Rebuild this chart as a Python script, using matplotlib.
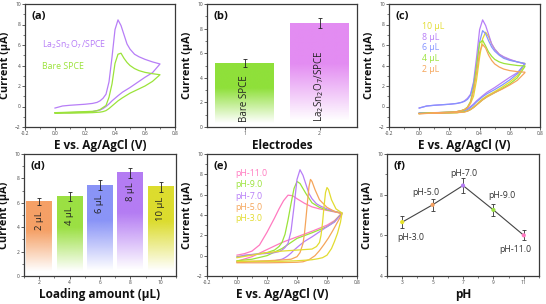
import numpy as np
import matplotlib
matplotlib.use('Agg')
import matplotlib.pyplot as plt
from matplotlib import font_manager
from matplotlib.colors import to_rgb
from matplotlib.ticker import MultipleLocator

# pick a narrow font if there is one (reference text looks condensed)
names = {f.name for f in font_manager.fontManager.ttflist}
fam = 'Liberation Sans Narrow' if 'Liberation Sans Narrow' in names else 'Open Sans'
plt.rcParams['font.family'] = [fam, 'DejaVu Sans']

# ---------------- data ----------------
# CV potential grids (V)
e_fwd = [0.0, 0.05, 0.1, 0.15, 0.2, 0.25, 0.28, 0.3, 0.32, 0.34, 0.36, 0.38, 0.40,
         0.42, 0.44, 0.46, 0.48, 0.5, 0.53, 0.56, 0.6, 0.65, 0.7]
e_rev = [0.7, 0.65, 0.6, 0.55, 0.5, 0.45, 0.42, 0.4, 0.38, 0.36, 0.34, 0.32, 0.3,
         0.25, 0.2, 0.1, 0.0]

# (a) La2Sn2O7/SPCE (same as 8 uL, pH 7.0)
i_la_fwd = [-0.15, 0.05, 0.12, 0.17, 0.22, 0.3, 0.4, 0.55, 0.8, 1.2, 2.4, 4.8, 7.5,
            8.45, 7.9, 7.0, 6.1, 5.6, 5.1, 4.85, 4.6, 4.35, 4.15]
i_la_rev = [4.15, 3.3, 2.85, 2.35, 1.85, 1.4, 1.05, 0.8, 0.55, 0.25, 0.0, -0.2, -0.35,
            -0.5, -0.55, -0.6, -0.62]
# (a) bare SPCE
i_bare_fwd = [-0.6, -0.58, -0.55, -0.52, -0.5, -0.47, -0.4, -0.3, -0.1, 0.1, 0.9, 2.2, 4.2,
              5.1, 5.2, 4.7, 4.3, 4.0, 3.7, 3.5, 3.33, 3.2, 3.1]
i_bare_rev = [3.1, 2.45, 2.0, 1.65, 1.3, 0.85, 0.55, 0.3, 0.05, -0.2, -0.4, -0.5, -0.55,
              -0.6, -0.62, -0.65, -0.65]

# (c) loading amounts
i_6ul_fwd = [-0.15, 0.05, 0.12, 0.17, 0.22, 0.3, 0.4, 0.5, 0.7, 1.1, 2.2, 4.0, 6.3,
             7.4, 7.1, 6.4, 5.8, 5.4, 5.0, 4.7, 4.5, 4.35, 4.2]
i_6ul_rev = [4.2, 3.2, 2.6, 2.1, 1.65, 1.25, 0.95, 0.7, 0.45, 0.15, -0.1, -0.3, -0.4,
             -0.55, -0.6, -0.62, -0.65]
i_10ul_fwd = [-0.68, -0.65, -0.62, -0.58, -0.55, -0.5, -0.4, -0.3, -0.1, 0.3, 1.0, 2.6, 4.8,
              6.6, 7.25, 6.8, 6.1, 5.6, 5.1, 4.8, 4.55, 4.35, 4.2]
i_10ul_rev = [4.1, 3.0, 2.4, 1.9, 1.45, 1.05, 0.75, 0.5, 0.2, -0.05, -0.25, -0.4, -0.5,
              -0.6, -0.62, -0.65, -0.68]
i_4ul_fwd = [-0.68, -0.65, -0.62, -0.58, -0.55, -0.5, -0.4, -0.3, -0.05, 0.5, 1.8, 4.0, 6.2,
             6.45, 5.9, 5.3, 4.9, 4.6, 4.35, 4.2, 4.1, 4.0, 3.95]
i_4ul_rev = [3.9, 2.8, 2.2, 1.75, 1.35, 0.95, 0.65, 0.4, 0.15, -0.1, -0.3, -0.45, -0.5,
             -0.6, -0.62, -0.65, -0.68]
i_2ul_fwd = [-0.7, -0.67, -0.64, -0.6, -0.56, -0.5, -0.4, -0.3, -0.1, 0.4, 1.5, 3.3, 5.3,
             6.05, 5.7, 5.0, 4.5, 4.15, 3.85, 3.65, 3.5, 3.4, 3.35]
i_2ul_rev = [3.3, 2.55, 2.1, 1.7, 1.35, 0.95, 0.65, 0.4, 0.15, -0.1, -0.3, -0.45, -0.55,
             -0.6, -0.62, -0.65, -0.7]

# (e) pH series, each with own potentials
e_ph11 = [0.0, 0.05, 0.1, 0.15, 0.2, 0.25, 0.28, 0.31, 0.34, 0.37, 0.4, 0.45, 0.5, 0.55, 0.6, 0.65, 0.7,
          0.65, 0.6, 0.5, 0.4, 0.3, 0.2, 0.1, 0.0]
i_ph11 = [0.05, 0.2, 0.45, 1.05, 2.3, 3.7, 4.6, 5.4, 5.95, 5.9, 5.6, 5.15, 4.8, 4.6, 4.45, 4.3, 4.2,
          3.45, 3.0, 2.4, 1.85, 1.3, 0.6, -0.1, -0.55]
e_ph9 = [0.0, 0.1, 0.2, 0.25, 0.28, 0.3, 0.32, 0.34, 0.36, 0.38, 0.40, 0.42, 0.44, 0.46, 0.5, 0.55, 0.6, 0.65, 0.7,
         0.65, 0.6, 0.5, 0.4, 0.35, 0.3, 0.2, 0.1, 0.0]
i_ph9 = [-0.1, 0.1, 0.3, 0.55, 0.9, 1.3, 2.1, 3.5, 5.1, 6.6, 7.3, 7.1, 6.6, 6.1, 5.2, 4.75, 4.5, 4.35, 4.2,
         3.35, 2.85, 2.25, 1.7, 1.2, 0.7, 0.0, -0.35, -0.5]
e_ph5 = [0.0, 0.1, 0.2, 0.3, 0.36, 0.4, 0.42, 0.44, 0.45, 0.46, 0.47, 0.48, 0.49, 0.5, 0.52, 0.55, 0.6, 0.65, 0.7,
         0.67, 0.64, 0.61, 0.58, 0.55, 0.52, 0.48, 0.44, 0.4, 0.3, 0.2, 0.1, 0.0]
i_ph5 = [-0.6, -0.55, -0.5, -0.42, -0.35, -0.1, 0.3, 1.2, 2.2, 3.7, 5.3, 6.8, 7.5, 7.3, 6.5, 5.5, 4.75, 4.35, 4.1,
         3.3, 2.5, 1.75, 1.1, 0.5, 0.0, -0.4, -0.6, -0.65, -0.68, -0.7, -0.7, -0.7]
e_ph3 = [0.0, 0.1, 0.2, 0.3, 0.4, 0.5, 0.53, 0.55, 0.56, 0.57, 0.58, 0.59, 0.6, 0.61, 0.63, 0.66, 0.7,
         0.69, 0.67, 0.65, 0.63, 0.6, 0.57, 0.54, 0.5, 0.4, 0.3, 0.2, 0.1, 0.0]
i_ph3 = [-0.2, 0.05, 0.3, 0.45, 0.55, 0.65, 0.9, 1.3, 2.0, 3.2, 4.8, 6.2, 6.7, 6.5, 5.5, 4.6, 4.2,
         3.3, 2.2, 1.4, 0.7, 0.05, -0.2, -0.3, -0.4, -0.5, -0.55, -0.55, -0.55, -0.55]

# (b) electrodes
elec_names = ['Bare SPCE', 'La$_2$Sn$_2$O$_7$/SPCE']
elec_cur = [5.2, 8.45]
elec_err = [0.3, 0.4]
elec_col = ['#8fe03a', '#e38cf2']

# (d) loading amount
load_ul = [2, 4, 6, 8, 10]
load_cur = [6.1, 6.5, 7.45, 8.45, 7.3]
load_err = [0.3, 0.35, 0.4, 0.4, 0.4]
load_col = ['#f5a066', '#9be043', '#8a94f7', '#b47cf3', '#dcdc2e']

# (f) pH
ph_vals = [3, 5, 7, 9, 11]
ph_cur = [6.65, 7.5, 8.45, 7.25, 6.0]
ph_err = [0.3, 0.3, 0.35, 0.3, 0.25]
ph_col = ['#e6e22a', '#f5a060', '#b47cf3', '#9be043', '#ff78c0']

purple = '#b77ef7'
green = '#9be33a'
orange = '#f5a55a'
blue = '#8593ff'
yellow = '#e2dc30'
pink = '#ff7ac0'

# ---------------- figure ----------------
fig = plt.figure(figsize=(5.46, 3.04), dpi=100)
W, H = 546, 304


def box(l, t, r, b):
    return fig.add_axes([l / W, 1 - b / H, (r - l) / W, (b - t) / H])


axa = box(25, 4, 175, 127)
axb = box(207, 4, 357, 127)
axc = box(389, 4, 540, 127)
axd = box(24, 154, 176, 276)
axe = box(207, 154, 357, 276)
axf = box(387, 154, 539, 276)

lab_kw = dict(fontweight='bold', fontsize=7.8, color='#111')


def style(ax, xlabel, letter):
    for s in ax.spines.values():
        s.set_color('#3a3a3a')
        s.set_linewidth(0.9)
    ax.tick_params(which='major', labelsize=3.5, length=2, width=0.6, colors='#444', pad=1)
    ax.tick_params(which='minor', length=1.2, width=0.5, colors='#444')
    ax.set_xlabel(xlabel, labelpad=2, fontweight='bold', fontsize=8.5, color='#111')
    ax.set_ylabel('Current (µA)', **lab_kw)
    ax.yaxis.set_label_coords(-14 / ax.bbox.width, 0.5)
    ax.text(0.04, 0.9, letter, transform=ax.transAxes, va='center', ha='left',
            fontweight='bold', fontsize=8, color='#111')


def cv_axes(ax, letter):
    ax.set_xlim(-0.2, 0.8)
    ax.set_ylim(-2, 10)
    ax.set_xticks(np.arange(-0.2, 0.81, 0.2))
    ax.set_xticklabels(['-0.2', '0.0', '0.2', '0.4', '0.6', '0.8'])
    ax.set_yticks(range(-2, 11, 2))
    ax.xaxis.set_minor_locator(MultipleLocator(0.1))
    ax.yaxis.set_minor_locator(MultipleLocator(1))
    style(ax, 'E vs. Ag/AgCl (V)', letter)


def grad_bar(ax, x, h, w, color):
    n = 200
    img = np.ones((n, 1, 4))
    img[..., :3] = to_rgb(color)
    frac = np.linspace(0, 1, n)
    img[:, 0, 3] = np.clip((frac - 0.06) / 0.55, 0, 1)
    ax.imshow(img, extent=(x - w / 2, x + w / 2, 0, h), origin='lower',
              aspect='auto', interpolation='bilinear', zorder=1)


# (a)
axa.plot(e_fwd + e_rev, i_la_fwd + i_la_rev, color=purple, lw=0.9)
axa.plot(e_fwd + e_rev, i_bare_fwd + i_bare_rev, color=green, lw=0.9)
axa.text(-0.09, 6.0, 'La$_2$Sn$_2$O$_7$/SPCE', color=purple, fontsize=6.3, va='center')
axa.text(-0.09, 3.9, 'Bare SPCE', color=green, fontsize=6.3, va='center')
cv_axes(axa, '(a)')

# (b)
for k, (h, e, c, name) in enumerate(zip(elec_cur, elec_err, elec_col, elec_names)):
    x = k + 1
    grad_bar(axb, x, h, 0.78, c)
    axb.errorbar(x, h, yerr=e, color='#222', capsize=1.5, elinewidth=0.6, capthick=0.6, zorder=3)
    axb.text(x, 0.4, name, rotation=90, ha='center', va='bottom', fontsize=7, color='#222', zorder=3)
axb.set_xlim(0.5, 2.5)
axb.set_ylim(0, 10)
axb.set_xticks([1, 2])
axb.set_yticks(range(0, 11, 2))
axb.yaxis.set_minor_locator(MultipleLocator(1))
style(axb, 'Electrodes', '(b)')

# (c)
loads_c = [('10 µL', yellow, i_10ul_fwd, i_10ul_rev),
           ('8 µL', purple, i_la_fwd, i_la_rev),
           ('6 µL', blue, i_6ul_fwd, i_6ul_rev),
           ('4 µL', green, i_4ul_fwd, i_4ul_rev),
           ('2 µL', orange, i_2ul_fwd, i_2ul_rev)]
for k, (name, c, f, r) in enumerate(loads_c):
    axc.plot(e_fwd + e_rev, f + r, color=c, lw=0.9)
    axc.text(0.02, 7.85 - 1.07 * k, name, color=c, fontsize=6.3, va='center')
cv_axes(axc, '(c)')

# (d)
for x, h, e, c in zip(load_ul, load_cur, load_err, load_col):
    grad_bar(axd, x, h, 1.7, c)
    axd.errorbar(x, h, yerr=e, color='#222', capsize=1.5, elinewidth=0.6, capthick=0.6, zorder=3)
    axd.text(x, h - 0.8, f'{x} µL', rotation=90, ha='center', va='top', fontsize=6.8, color='#222', zorder=3)
axd.set_xlim(1, 11)
axd.set_ylim(0, 10)
axd.set_xticks(load_ul)
axd.set_yticks(range(0, 11, 2))
axd.xaxis.set_minor_locator(MultipleLocator(1))
axd.yaxis.set_minor_locator(MultipleLocator(1))
style(axd, 'Loading amount (µL)', '(d)')

# (e)
ph_curves = [('pH-11.0', pink, e_ph11, i_ph11),
             ('pH-9.0', green, e_ph9, i_ph9),
             ('pH-7.0', purple, e_fwd + e_rev, i_la_fwd + i_la_rev),
             ('pH-5.0', orange, e_ph5, i_ph5),
             ('pH-3.0', yellow, e_ph3, i_ph3)]
for k, (name, c, ex, iy) in enumerate(ph_curves):
    axe.plot(ex, iy, color=c, lw=0.9)
    axe.text(-0.01, 8.06 - 1.1 * k, name, color=c, fontsize=6.3, va='center')
cv_axes(axe, '(e)')

# (f)
axf.plot(ph_vals, ph_cur, color='#444', lw=0.8, zorder=1)
axf.errorbar(ph_vals, ph_cur, yerr=ph_err, fmt='none', ecolor='#333', capsize=1.5,
             elinewidth=0.6, capthick=0.6, zorder=2)
axf.scatter(ph_vals, ph_cur, s=9, c=ph_col, zorder=3, linewidths=0)
ph_txt = [(3.55, 5.9), (4.55, 8.13), (7.07, 9.03), (9.58, 7.96), (10.47, 5.3)]
for (tx, ty), p in zip(ph_txt, ph_vals):
    axf.text(tx, ty, f'pH-{p:.1f}', ha='center', va='center', fontsize=6.3, color='#333')
axf.set_xlim(2, 12)
axf.set_ylim(4, 10)
axf.set_xticks(ph_vals)
axf.set_yticks([4, 6, 8, 10])
axf.xaxis.set_minor_locator(MultipleLocator(1))
axf.yaxis.set_minor_locator(MultipleLocator(1))
style(axf, 'pH', '(f)')

fig.savefig('out.png', dpi=100)
